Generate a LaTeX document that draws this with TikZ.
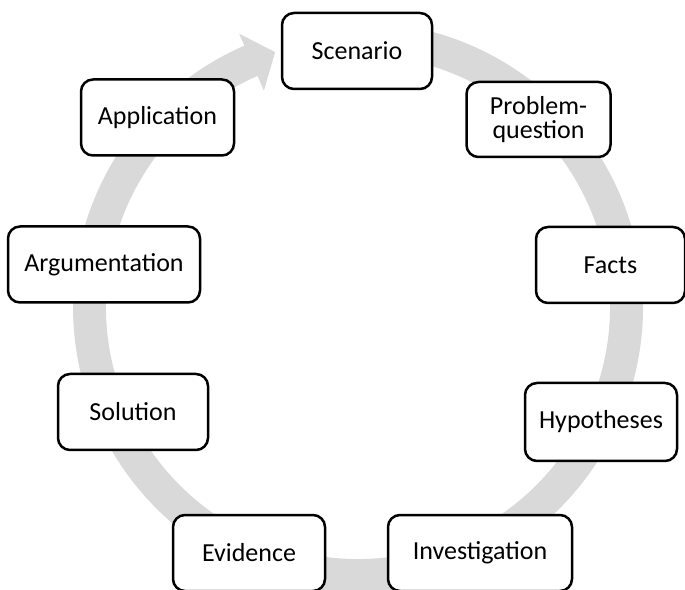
\documentclass[tikz,border=0pt]{standalone}
\usepackage{fontspec}
\setmainfont{Carlito}
\usepackage{tikz}
\usetikzlibrary{positioning}
\definecolor{ringgray}{RGB}{217,217,217}

\begin{document}
\begin{tikzpicture}[x=0.5pt, y=0.5pt,
  box/.style={rectangle, rounded corners=6pt, draw=black, line width=1.25pt, fill=white,
              minimum height=38pt, align=center, font=\fontsize{13}{11.7}\selectfont},
  ring/.style={fill=ringgray, draw=none}
]
  \useasboundingbox (0,0) rectangle (685,589);
  % the cycle arrow behind the steps
  \begin{scope}[shift={(358,282)}]
    \fill[ring] (95:285) arc[start angle=95, end angle=-246.5, radius=285]
      -- (-246.5:298) -- (-252:268) -- (-246.5:236) -- (-246.5:252)
      arc[start angle=-246.5, end angle=95, radius=252] -- cycle;
  \end{scope}
  % steps, clockwise from the top
  \node[box, minimum width=75pt] (scen)  at (357,538)   {Scenario};
  \node[box, minimum width=72pt, minimum height=37.5pt] (prob) at (538.5,469.5) {Problem-\\question};
  \node[box, minimum width=74.5pt] (facts) at (610.5,324) {Facts};
  \node[box, minimum width=76pt, minimum height=39pt] (hyp) at (601,167) {Hypotheses};
  \node[box, minimum width=92pt] (inv)   at (480,36)    {Investigation};
  \node[box, minimum width=76pt] (evid)  at (249,36)    {Evidence};
  \node[box, minimum width=75pt] (sol)   at (133,177)   {Solution};
  \node[box, minimum width=96pt] (arg)   at (104,324.5) {Argumentation};
  \node[box, minimum width=76.5pt] (app) at (157.5,471.5) {Application};
\end{tikzpicture}
\end{document}
